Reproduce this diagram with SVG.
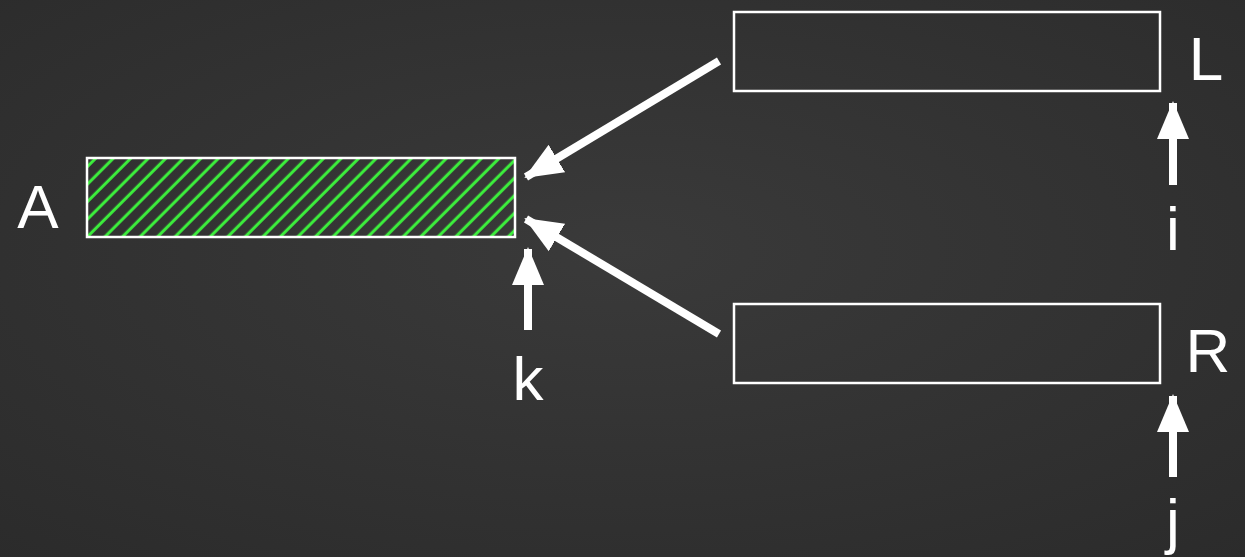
<svg xmlns="http://www.w3.org/2000/svg" width="1245" height="557" viewBox="0 0 1245 557">
<style>
.box{stroke:#ffffff;stroke-width:2.5}
.empty{fill:none}
.lbl{font-family:"Liberation Sans","DejaVu Sans",sans-serif;font-size:62px;fill:#ffffff}
.con{stroke:#ffffff;stroke-width:8;fill:none}
</style>
<defs>
<radialGradient id="bg" cx="0.5" cy="0.45" r="0.75">
<stop offset="0" stop-color="#3a3a3a"/>
<stop offset="1" stop-color="#2b2b2b"/>
</radialGradient>
<pattern id="hatch" patternUnits="userSpaceOnUse" width="12.4" height="12.4" patternTransform="rotate(45)">
<line x1="6" y1="-1" x2="6" y2="14" stroke="#3cf03c" stroke-width="3"/>
</pattern>
<marker id="ah" markerUnits="userSpaceOnUse" markerWidth="42" markerHeight="34" refX="36" refY="17" orient="auto">
<polygon points="0,1 38,17 0,33" fill="#ffffff"/>
</marker>
</defs>
<rect width="1245" height="557" fill="url(#bg)"/>
<g id="node-A">
<rect x="87" y="158" width="428" height="79" style="fill:url(#hatch)" class="box"/>
<text class="lbl" x="38" y="228" text-anchor="middle">A</text>
</g>
<g id="node-L">
<rect x="734" y="12" width="426" height="79" class="box empty"/>
<text class="lbl" x="1206" y="80" text-anchor="middle">L</text>
</g>
<g id="node-R">
<rect x="734" y="304" width="426" height="79" class="box empty"/>
<text class="lbl" x="1208" y="372" text-anchor="middle">R</text>
</g>
<g id="label-k"><text class="lbl" x="528" y="400" text-anchor="middle">k</text></g>
<g id="label-i"><text class="lbl" x="1173" y="250" text-anchor="middle">i</text></g>
<g id="label-j"><text class="lbl" x="1173" y="542" text-anchor="middle">j</text></g>
<g id="connectors">
<line class="con" x1="719" y1="61" x2="526" y2="177" marker-end="url(#ah)"/>
<line class="con" x1="719" y1="334" x2="526" y2="219" marker-end="url(#ah)"/>
<line class="con" x1="528" y1="330" x2="528" y2="249" marker-end="url(#ah)"/>
<line class="con" x1="1173" y1="185" x2="1173" y2="103" marker-end="url(#ah)"/>
<line class="con" x1="1173" y1="477" x2="1173" y2="396" marker-end="url(#ah)"/>
</g>
</svg>
